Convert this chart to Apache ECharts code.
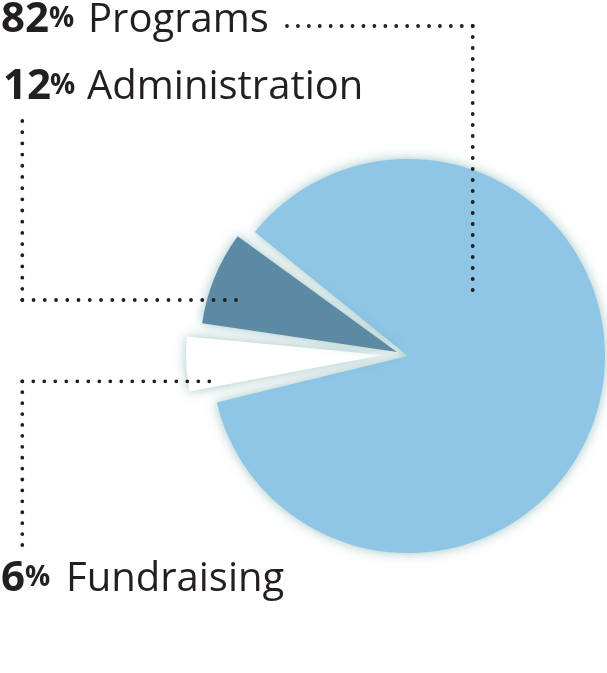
<!DOCTYPE html>
<html><head><meta charset="utf-8">
<script src="https://cdn.jsdelivr.net/npm/echarts@6/dist/echarts.min.js"></script>
<style>html,body{margin:0;padding:0;background:#fff}#c{width:607px;height:673px}</style>
</head><body><div id="c"></div>
<script>
// clockwise order of slices as drawn
const categories = ['Programs', 'Fundraising', 'Administration'];
const sliceValues = [86.2, 5.3, 8.5];
// printed labels
const labelPercents = ['82', '6', '12'];
const labelNames = ['Programs', 'Fundraising', 'Administration'];

// styles / positions
const sliceColors = ['#8fc5e5', '#ffffff', '#5c89a4'];
const sliceCenters = [[408, 356], [383, 355], [397, 352]];
const ink = '#231f20';

const chart = echarts.init(document.getElementById('c'), null, {renderer: 'canvas'});

const series = categories.map((name, k) => ({
  type: 'pie',
  name: name,
  center: sliceCenters[k],
  radius: [0, 197],
  startAngle: 142.5,
  padAngle: 3,
  clockwise: true,
  silent: true,
  animation: false,
  avoidLabelOverlap: false,
  label: {show: false},
  labelLine: {show: false},
  emphasis: {disabled: true},
  data: categories.map((n, i) => ({
    name: n,
    value: sliceValues[i],
    itemStyle: i === k
      ? {color: sliceColors[i], borderWidth: 0, shadowBlur: 12, shadowColor: 'rgba(70,140,140,0.5)'}
      : {color: 'rgba(0,0,0,0)', borderWidth: 0}
  }))
}));

// label rows in order Programs, Administration, Fundraising
const rows = [
  {i: 0, numX: 1, pctX: 49, nameX: 88, base: 36},
  {i: 2, numX: 3, pctX: 50, nameX: 87, base: 103},
  {i: 1, numX: 1, pctX: 25, nameX: 66, base: 595}
];
const graphics = [];
rows.forEach(r => {
  graphics.push({type: 'text', x: r.numX, y: r.base - 0.388 * 42, silent: true,
    style: {text: labelPercents[r.i], font: 'bold 42px "Open Sans"', fill: ink, verticalAlign: 'middle', align: 'left'}});
  graphics.push({type: 'text', x: r.pctX, y: r.base - 6 - 0.388 * 28, silent: true,
    style: {text: '%', font: 'bold 28px "Open Sans"', fill: ink, verticalAlign: 'middle', align: 'left'}});
  graphics.push({type: 'text', x: r.nameX, y: r.base - 0.388 * 40, silent: true,
    style: {text: labelNames[r.i], font: '40px "Open Sans"', fill: ink, verticalAlign: 'middle', align: 'left'}});
});

// dotted leader segments: [x1,y1,x2,y2,intervals]
const leaders = [
  [472.7, 26, 287, 26, 17],
  [472.7, 26, 472.7, 290, 24],
  [22.3, 300, 22.3, 121, 16],
  [22.3, 300, 236, 300, 19],
  [22.3, 381.3, 209.3, 381.3, 17],
  [22.3, 381.3, 22.3, 545, 15]
];
leaders.forEach(s => {
  const dx = s[2] - s[0], dy = s[3] - s[1];
  const len = Math.hypot(dx, dy);
  const ext = 1.5 / len; // extend slightly so the end dot is drawn
  graphics.push({type: 'polyline', silent: true, z: 10,
    shape: {points: [[s[0], s[1]], [s[2] + dx * ext, s[3] + dy * ext]]},
    style: {stroke: ink, lineWidth: 3.8, lineCap: 'round', lineDash: [0, len / s[4]], fill: null}});
});

chart.setOption({
  animation: false,
  backgroundColor: '#ffffff',
  series: series,
  graphic: graphics
});
</script>
</body></html>
